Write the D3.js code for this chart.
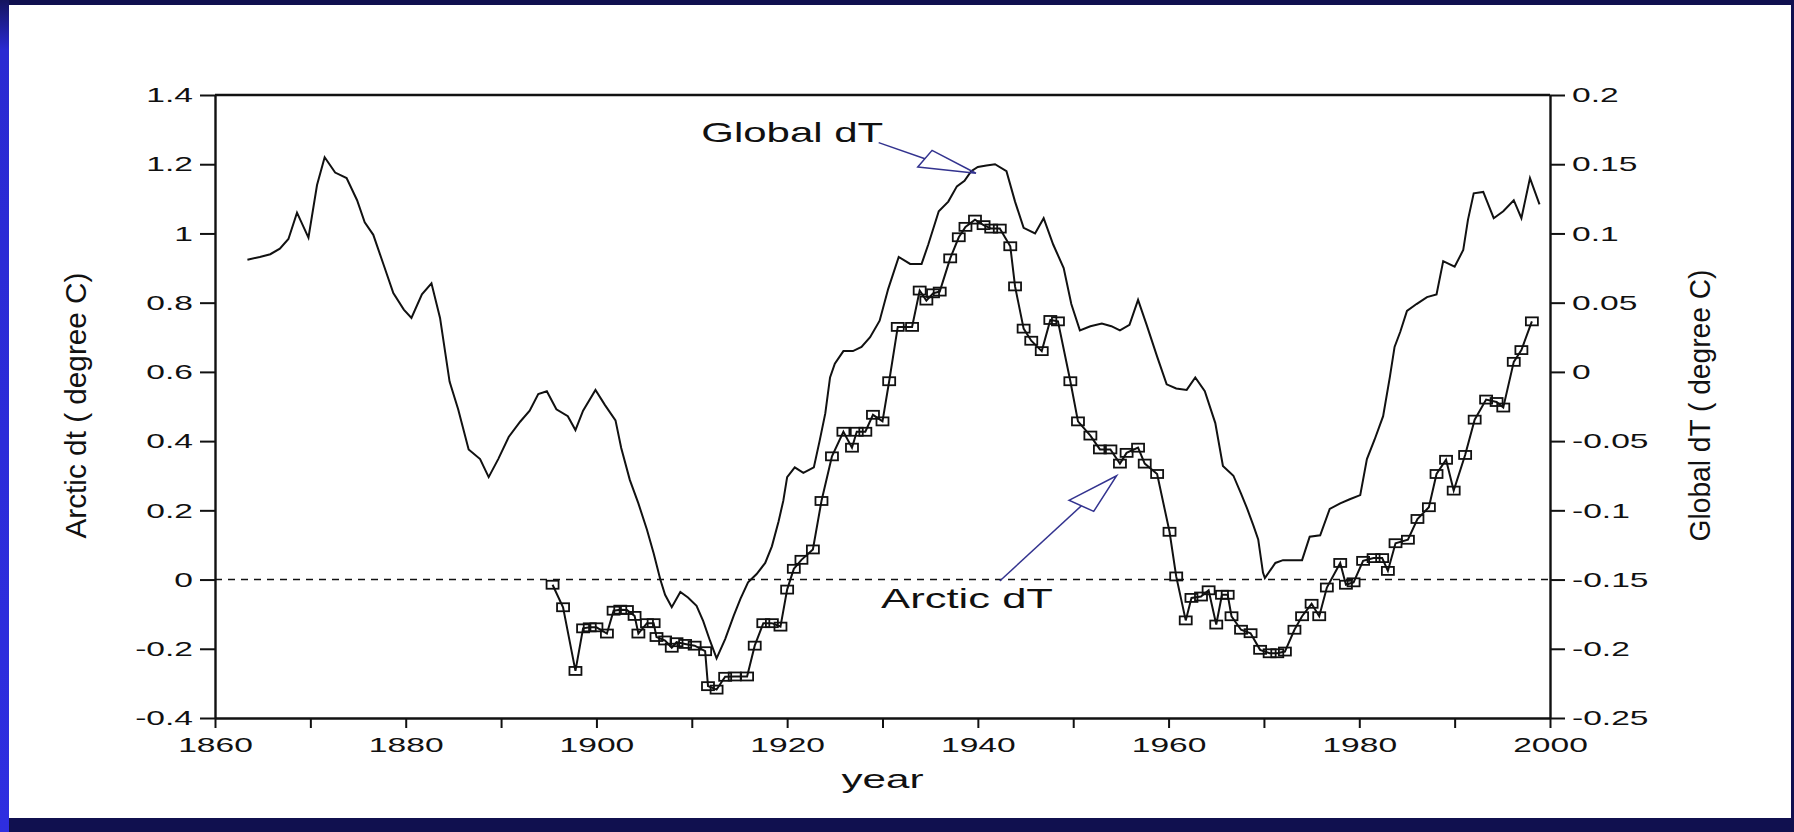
<!DOCTYPE html>
<html>
<head>
<meta charset="utf-8">
<title>Arctic and Global dT</title>
<script src="https://cdn.jsdelivr.net/npm/d3@7"></script>
<style>
  html, body { margin: 0; padding: 0; background: #10104f; }
  svg { display: block; }
  text { font-family: "Liberation Sans", Arial, Helvetica, sans-serif; fill: #111; }
</style>
</head>
<body>
<svg id="chart" width="1794" height="832"></svg>
<script>
// ---- Global mean temperature anomaly (right axis, degree C) ----
const globalYears = [
  1863.4,1864.7,1865.8,1866.8,1867.7,1868.6,1869.8,1870.7,1871.5,1872.6,
  1873.8,1874.9,1875.7,1876.6,1877.7,1878.7,1879.8,1880.6,1881.7,1882.7,
  1883.6,1884.6,1885.5,1886.6,1887.8,1888.7,1889.7,1890.8,1892.0,1893.0,
  1893.9,1894.8,1895.8,1897.0,1897.8,1898.6,1899.9,1900.9,1902.0,1902.6,
  1903.5,1904.4,1905.3,1906.0,1906.7,1907.2,1907.9,1908.8,1909.6,1910.5,
  1911.2,1911.9,1912.6,1913.5,1914.4,1915.1,1915.9,1916.8,1917.7,1918.4,
  1919.1,1919.6,1920.0,1920.8,1921.7,1922.8,1923.4,1924.0,1924.5,1925.0,
  1925.9,1926.9,1927.8,1928.7,1929.7,1930.6,1931.7,1932.9,1934.1,1934.8,
  1935.9,1936.9,1937.8,1938.6,1939.3,1940.0,1940.9,1941.8,1943.0,1943.9,
  1944.8,1946.0,1946.9,1947.9,1949.0,1949.8,1950.7,1951.8,1953.0,1954.0,
  1954.9,1955.9,1956.8,1957.7,1958.8,1959.8,1960.8,1961.9,1962.8,1963.8,
  1964.9,1965.7,1966.8,1967.6,1968.2,1968.9,1969.4,1969.9,1970.1,1971.2,
  1972.0,1974.0,1974.8,1975.9,1976.9,1978.0,1979.0,1980.1,1980.8,1981.6,
  1982.5,1983.2,1983.7,1984.3,1985.0,1986.0,1987.1,1988.1,1988.8,1990.0,
  1990.9,1991.4,1992.0,1993.0,1994.1,1995.1,1996.2,1997.0,1997.9,1998.9
];
const globalValues = [
  0.081,0.083,0.085,0.089,0.096,0.115,0.097,0.135,0.155,0.144,
  0.140,0.124,0.108,0.099,0.077,0.057,0.045,0.039,0.056,0.064,
  0.039,-0.007,-0.027,-0.056,-0.063,-0.076,-0.063,-0.047,-0.036,-0.028,
  -0.016,-0.014,-0.027,-0.032,-0.042,-0.028,-0.013,-0.024,-0.035,-0.055,
  -0.078,-0.095,-0.114,-0.131,-0.150,-0.161,-0.170,-0.159,-0.163,-0.169,
  -0.180,-0.194,-0.207,-0.193,-0.176,-0.164,-0.152,-0.146,-0.138,-0.126,
  -0.108,-0.093,-0.076,-0.069,-0.073,-0.069,-0.050,-0.030,-0.004,0.006,
  0.015,0.015,0.018,0.025,0.037,0.060,0.083,0.078,0.078,0.092,
  0.116,0.123,0.134,0.138,0.145,0.148,0.149,0.150,0.145,0.123,
  0.104,0.100,0.111,0.092,0.075,0.049,0.030,0.033,0.035,0.033,
  0.030,0.034,0.052,0.034,0.011,-0.009,-0.012,-0.013,-0.004,-0.014,
  -0.037,-0.068,-0.075,-0.088,-0.098,-0.111,-0.121,-0.145,-0.149,-0.138,
  -0.136,-0.136,-0.119,-0.118,-0.099,-0.095,-0.092,-0.089,-0.063,-0.049,
  -0.032,-0.004,0.018,0.029,0.044,0.049,0.054,0.056,0.080,0.076,
  0.088,0.110,0.129,0.130,0.111,0.116,0.124,0.111,0.140,0.121
];

// ---- Arctic temperature anomaly (left axis, degree C) ----
const arcticYears = [
  1895.4,1896.5,1897.8,1898.6,1899.3,1900.0,1901.1,1901.8,1902.5,1903.2,
  1904.0,1904.4,1905.3,1906.0,1906.3,1907.2,1907.9,1908.4,1909.3,1910.3,
  1911.4,1911.7,1912.6,1913.5,1914.5,1915.8,1916.6,1917.5,1918.4,1919.3,
  1920.0,1920.7,1921.5,1922.7,1923.6,1924.7,1925.9,1926.8,1927.3,1928.2,
  1929.0,1930.0,1930.7,1931.6,1933.1,1933.9,1934.6,1935.3,1936.0,1937.1,
  1938.0,1938.7,1939.7,1940.6,1941.4,1942.3,1943.4,1943.9,1944.8,1945.6,
  1946.7,1947.6,1948.4,1949.7,1950.5,1951.8,1952.8,1953.9,1954.9,1955.6,
  1956.8,1957.5,1958.8,1960.1,1960.8,1961.8,1962.4,1963.4,1964.2,1965.0,
  1965.6,1966.2,1966.6,1967.6,1968.6,1969.6,1970.6,1971.4,1972.2,1973.2,
  1974.0,1975.0,1975.8,1976.6,1978.0,1978.6,1979.4,1980.4,1981.5,1982.4,
  1983.0,1983.8,1985.1,1986.1,1987.3,1988.1,1989.1,1989.9,1991.1,1992.1,
  1993.3,1994.4,1995.1,1996.2,1997.0,1998.1
];
const arcticValues = [
  -0.015,-0.080,-0.264,-0.141,-0.138,-0.138,-0.156,-0.090,-0.087,-0.088,
  -0.105,-0.156,-0.126,-0.126,-0.166,-0.176,-0.197,-0.181,-0.186,-0.191,
  -0.207,-0.308,-0.318,-0.281,-0.280,-0.280,-0.191,-0.126,-0.126,-0.136,
  -0.029,0.031,0.057,0.087,0.227,0.356,0.427,0.381,0.427,0.427,
  0.476,0.457,0.573,0.730,0.730,0.835,0.806,0.827,0.832,0.928,
  0.989,1.019,1.040,1.024,1.014,1.014,0.963,0.847,0.725,0.690,
  0.660,0.750,0.746,0.573,0.457,0.416,0.376,0.376,0.335,0.366,
  0.381,0.335,0.305,0.138,0.009,-0.118,-0.053,-0.049,-0.031,-0.130,
  -0.044,-0.044,-0.106,-0.145,-0.155,-0.203,-0.213,-0.213,-0.208,-0.145,
  -0.106,-0.070,-0.106,-0.023,0.048,-0.015,-0.008,0.054,0.062,0.062,
  0.025,0.105,0.115,0.175,0.209,0.305,0.346,0.257,0.360,0.462,
  0.520,0.513,0.497,0.629,0.663,0.746
];

// ---- Axis ticks ----
const yearTicks = [1860,1870,1880,1890,1900,1910,1920,1930,1940,1950,1960,1970,1980,1990,2000];
const yearLabelStep = 20;
const arcticTicks = [-0.4,-0.2,0,0.2,0.4,0.6,0.8,1,1.2,1.4];
const globalTicks = [-0.25,-0.2,-0.15,-0.1,-0.05,0,0.05,0.1,0.15,0.2];

// ---- Annotation texts and arrows (data coordinates) ----
const globalNote = { text: "Global dT", year: 1911.0, arctic: 1.264 };
const globalArrow = { from: [1929.6, 0.1656], base: [[1933.7, 0.148], [1935.2, 0.160]], tip: [1939.8, 0.1435] };
const arcticNote = { text: "Arctic dT", year: 1929.85, arctic: -0.081 };
const arcticArrow = { from: [1942.3, -0.004], base: [[1949.55, 0.229], [1952.15, 0.197]], tip: [1954.55, 0.300] };

const leftTitle = "Arctic dt ( degree C)";
const rightTitle = "Global dT ( degree C)";
const xTitle = "year";

// ---------------------------------------------------------------
const W = 1794, H = 832;
const plot = { left: 215, right: 1550, top: 95, bottom: 718 };
const svg = d3.select("#chart");

// page frame
svg.append("rect").attr("width", W).attr("height", H).attr("fill", "#10104f");
const edge = svg.append("defs").append("linearGradient")
  .attr("id", "edge").attr("x1", 0).attr("x2", 0).attr("y1", 0).attr("y2", 1);
edge.append("stop").attr("offset", "0").attr("stop-color", "#14145e");
edge.append("stop").attr("offset", "0.06").attr("stop-color", "#2a2ad2");
edge.append("stop").attr("offset", "1").attr("stop-color", "#2e2ee0");
svg.append("rect").attr("x", 0).attr("y", 0).attr("width", 9).attr("height", H).attr("fill", "url(#edge)");
svg.append("rect").attr("x", 9).attr("y", 5).attr("width", W - 12).attr("height", 813).attr("fill", "#ffffff");

const x = d3.scaleLinear().domain([1860, 2000]).range([plot.left, plot.right]);
const yA = d3.scaleLinear().domain([-0.4, 1.4]).range([plot.bottom, plot.top]);
const yG = d3.scaleLinear().domain([-0.25, 0.2]).range([plot.bottom, plot.top]);

const fmt = d => String(+d.toFixed(2));
const TICK_STRETCH = 1.6;

// zero reference line
svg.append("line")
  .attr("x1", x(1860)).attr("x2", x(2000))
  .attr("y1", yA(0)).attr("y2", yA(0))
  .attr("stroke", "#111").attr("stroke-width", 1.6).attr("stroke-dasharray", "7,6");

// top frame line
svg.append("line")
  .attr("x1", plot.left).attr("x2", plot.right)
  .attr("y1", plot.top).attr("y2", plot.top)
  .attr("stroke", "#111").attr("stroke-width", 2.4);

function styleAxis(g) {
  g.select(".domain").attr("stroke", "#111").attr("stroke-width", 2.4);
  g.selectAll(".tick line").attr("stroke", "#111").attr("stroke-width", 2);
  g.selectAll(".tick text")
    .attr("fill", "#111")
    .style("font-size", "21px")
    .style("font-family", "'Liberation Sans', Arial, sans-serif");
}

// left axis (Arctic)
const gL = svg.append("g").attr("transform", `translate(${plot.left},0)`)
  .call(d3.axisLeft(yA).tickValues(arcticTicks).tickFormat(fmt).tickSize(15).tickSizeOuter(0).tickPadding(7));
styleAxis(gL);
gL.selectAll(".tick text").attr("x", -22 / TICK_STRETCH).attr("transform", `scale(${TICK_STRETCH},1)`);

// right axis (Global)
const gR = svg.append("g").attr("transform", `translate(${plot.right},0)`)
  .call(d3.axisRight(yG).tickValues(globalTicks).tickFormat(fmt).tickSize(15).tickSizeOuter(0).tickPadding(7));
styleAxis(gR);
gR.selectAll(".tick text").attr("x", 22 / TICK_STRETCH).attr("transform", `scale(${TICK_STRETCH},1)`);

// bottom axis (year)
const gB = svg.append("g").attr("transform", `translate(0,${plot.bottom})`)
  .call(d3.axisBottom(x).tickValues(yearTicks)
    .tickFormat(d => (d % yearLabelStep === 0 ? String(d) : ""))
    .tickSize(10).tickSizeOuter(0).tickPadding(9));
styleAxis(gB);
gB.selectAll(".tick text").attr("transform", `scale(${TICK_STRETCH},1)`);

// helper: stretch a text element horizontally to span a given width
function fitText(sel, width) {
  const n = sel.node().getComputedTextLength();
  return width / n;
}

// axis titles
const tL = svg.append("text").text(leftTitle)
  .attr("text-anchor", "middle").style("font-size", "30px");
const sL = fitText(tL, 266);
tL.attr("transform", `translate(86,${(plot.top + plot.bottom) / 2 - 1}) rotate(-90) scale(${sL},1)`);

const tR = svg.append("text").text(rightTitle)
  .attr("text-anchor", "middle").style("font-size", "30px");
const sR = fitText(tR, 272);
tR.attr("transform", `translate(1710,${(plot.top + plot.bottom) / 2 - 1}) rotate(-90) scale(${sR},1)`);

const tX = svg.append("text").text(xTitle)
  .attr("text-anchor", "middle").style("font-size", "25px");
const sX = fitText(tX, 82);
tX.attr("transform", `translate(${(plot.left + plot.right) / 2},788) scale(${sX},1)`);

// data series
const globalData = globalYears.map((yr, i) => ({ year: yr, value: globalValues[i] }));
const arcticData = arcticYears.map((yr, i) => ({ year: yr, value: arcticValues[i] }));

svg.append("path").datum(globalData)
  .attr("fill", "none").attr("stroke", "#111").attr("stroke-width", 2)
  .attr("stroke-linejoin", "miter")
  .attr("d", d3.line().x(d => x(d.year)).y(d => yG(d.value)));

svg.append("path").datum(arcticData)
  .attr("fill", "none").attr("stroke", "#111").attr("stroke-width", 2)
  .attr("d", d3.line().x(d => x(d.year)).y(d => yA(d.value)));

const MW = 12, MH = 8;
svg.append("g").selectAll("rect").data(arcticData).join("rect")
  .attr("x", d => x(d.year) - MW / 2).attr("y", d => yA(d.value) - MH / 2)
  .attr("width", MW).attr("height", MH)
  .attr("fill", "none").attr("stroke", "#111").attr("stroke-width", 1.8);

// annotations
const ARROW = "#33338f";
function drawArrow(a, yScale) {
  const p = v => [x(v[0]), yScale(v[1])];
  const from = p(a.from), b1 = p(a.base[0]), b2 = p(a.base[1]), tip = p(a.tip);
  const mid = [(b1[0] + b2[0]) / 2, (b1[1] + b2[1]) / 2];
  svg.append("line").attr("x1", from[0]).attr("y1", from[1]).attr("x2", mid[0]).attr("y2", mid[1])
    .attr("stroke", ARROW).attr("stroke-width", 1.5);
  svg.append("path").attr("d", d3.line()([b1, tip, b2]) + "Z")
    .attr("fill", "none").attr("stroke", ARROW).attr("stroke-width", 1.5);
}
drawArrow(globalArrow, yG);
drawArrow(arcticArrow, yA);

const nG = svg.append("text").text(globalNote.text).style("font-size", "28px");
const sG = fitText(nG, 182);
nG.attr("transform", `translate(${x(globalNote.year)},${yA(globalNote.arctic)}) scale(${sG},1)`);

const nA = svg.append("text").text(arcticNote.text).style("font-size", "28px");
const sA = fitText(nA, 172);
nA.attr("transform", `translate(${x(arcticNote.year)},${yA(arcticNote.arctic)}) scale(${sA},1)`);
</script>
</body>
</html>
